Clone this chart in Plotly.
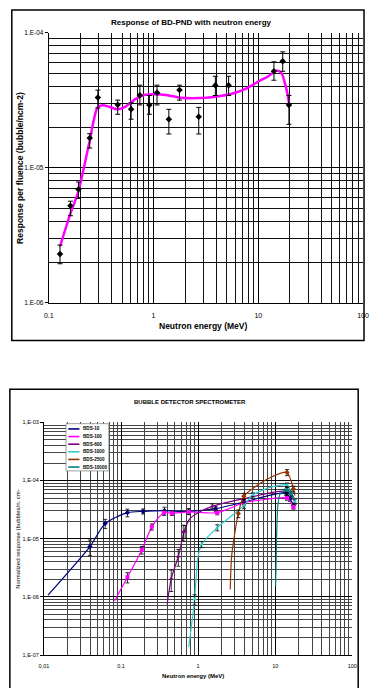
import plotly.graph_objects as go

W, H = 370, 688

# ---------------- top chart data ----------------
top_energy = [0.128, 0.161, 0.192, 0.246, 0.294, 0.455, 0.611, 0.741, 0.912, 1.08,
              1.40, 1.77, 2.70, 3.89, 5.21, 14.1, 17.1, 19.6]
top_resp = [2.30e-6, 5.24e-6, 6.93e-6, 1.66e-5, 3.32e-5, 2.93e-5, 2.71e-5, 3.45e-5, 2.92e-5, 3.59e-5,
            2.29e-5, 3.76e-5, 2.39e-5, 4.09e-5, 4.09e-5, 5.18e-5, 6.16e-5, 2.92e-5]
top_hi = [2.68e-6, 5.66e-6, 7.85e-6, 1.79e-5, 3.76e-5, 3.17e-5, 3.03e-5, 4.09e-5, 3.43e-5, 4.09e-5,
          2.71e-5, 4.09e-5, 2.80e-5, 4.76e-5, 4.76e-5, 6.09e-5, 7.22e-5, 3.43e-5]
top_lo = [1.95e-6, 4.42e-6, 5.93e-6, 1.40e-5, 2.77e-5, 2.49e-5, 2.29e-5, 2.92e-5, 2.49e-5, 2.92e-5,
          1.78e-5, 3.17e-5, 1.78e-5, 3.43e-5, 3.43e-5, 4.45e-5, 5.18e-5, 2.10e-5]
fit_energy = [0.128, 0.159, 0.191, 0.244, 0.292, 0.325, 0.376, 0.449, 0.537, 0.665, 0.824, 1.02,
              1.36, 1.81, 2.78, 3.70, 5.69, 7.57, 10.1, 12.5, 14.9, 16.6, 18.1, 19.2, 19.6]
fit_resp = [2.62e-6, 4.47e-6, 6.63e-6, 1.54e-5, 2.79e-5, 2.90e-5, 2.83e-5, 2.71e-5, 2.83e-5, 3.21e-5,
            3.47e-5, 3.51e-5, 3.45e-5, 3.30e-5, 3.28e-5, 3.34e-5, 3.55e-5, 3.84e-5, 4.37e-5, 4.76e-5,
            5.24e-5, 5.03e-5, 4.13e-5, 3.39e-5, 3.03e-5]

top_x_ticks = [0.1, 1, 10, 100]
top_x_labels = ["0.1", "1", "10", "100"]
top_y_ticks = [1e-6, 1e-5, 1e-4]
top_y_labels = ["1.E-06", "1.E-05", "1.E-04"]

# ---------------- bottom chart data ----------------
bds_names = ["BDS-10", "BDS-100", "BDS-600", "BDS-1000", "BDS-2500", "BDS-10000"]
bds_colors = ["#000080", "#ff00ff", "#800080", "#33cccc", "#993300", "#008080"]
bds_symbols = ["diamond", "square", "triangle-up", "triangle-up", "diamond", "circle"]

bds10_curve_e = [0.0113, 0.0395, 0.0622, 0.121, 0.193, 0.366, 0.755, 1.69, 3.92, 13.9, 15.6, 17.2]
bds10_curve_r = [1.07e-6, 7.31e-6, 1.82e-5, 2.80e-5, 2.95e-5, 3.03e-5, 2.95e-5, 3.28e-5, 4.26e-5, 6.14e-5, 4.85e-5, 3.73e-5]
bds10_pts_e = [0.0395, 0.0622, 0.121, 0.193, 0.366, 0.755, 1.69, 3.92, 13.9, 15.6, 17.2]
bds10_pts_r = [7.31e-6, 1.82e-5, 2.80e-5, 2.95e-5, 3.03e-5, 2.95e-5, 3.28e-5, 4.26e-5, 6.14e-5, 4.85e-5, 3.73e-5]
bds10_err = [0.30, 0.18, 0.15, 0.10, 0.15, 0.12, 0.10, 0.10, 0.10, 0.10, 0.10]

bds100_curve_e = [0.0824, 0.121, 0.186, 0.251, 0.359, 0.457, 0.755, 1.77, 3.92, 5.93, 14.2, 17.2]
bds100_curve_r = [8.49e-7, 2.17e-6, 6.41e-6, 1.60e-5, 2.80e-5, 2.73e-5, 2.88e-5, 2.80e-5, 4.15e-5, 4.54e-5, 5.0e-5, 3.50e-5]
bds100_pts_e = [0.121, 0.186, 0.251, 0.359, 0.457, 0.755, 1.77, 3.92, 14.2, 17.2]
bds100_pts_r = [2.17e-6, 6.41e-6, 1.60e-5, 2.80e-5, 2.73e-5, 2.88e-5, 2.80e-5, 4.15e-5, 5.0e-5, 3.50e-5]
bds100_err = [0.20, 0.15, 0.12, 0.10, 0.08, 0.08, 0.08, 0.08, 0.08, 0.08]

bds600_curve_e = [0.396, 0.448, 0.553, 0.66, 0.778, 1.04, 1.53, 3.92, 13.9, 17.5]
bds600_curve_r = [7.45e-7, 2.06e-6, 4.94e-6, 1.33e-5, 2.2e-5, 2.88e-5, 3.6e-5, 4.9e-5, 6.5e-5, 4.5e-5]
bds600_pts_e = [0.448, 0.553, 0.641, 0.679, 1.53, 3.92, 13.9]
bds600_pts_r = [2.06e-6, 4.94e-6, 1.31e-5, 1.35e-5, 3.6e-5, 4.9e-5, 6.5e-5]
bds600_err = [0.40, 0.32, 0.30, 0.25, 0.10, 0.10, 0.10]

bds1000_curve_e = [0.755, 0.90, 0.99, 1.11, 1.77, 3.92, 5.13, 8.73, 14.2, 18.0]
bds1000_curve_r = [1.37e-7, 9.06e-7, 4.63e-6, 8.0e-6, 1.55e-5, 3.73e-5, 5.68e-5, 7.66e-5, 8.4e-5, 4.37e-5]
bds1000_pts_e = [0.90, 1.11, 1.77, 3.92, 5.13, 14.2, 18.0]
bds1000_pts_r = [9.06e-7, 8.0e-6, 1.55e-5, 3.73e-5, 5.68e-5, 8.4e-5, 4.37e-5]
bds1000_err = [0.20, 0.12, 0.12, 0.12, 0.08, 0.08, 0.10]

bds2500_curve_e = [2.61, 2.73, 3.32, 3.92, 7.93, 14.2, 17.2, 18.0]
bds2500_curve_r = [1.34e-6, 5.27e-6, 2.70e-5, 5.38e-5, 1.06e-4, 1.38e-4, 7.18e-5, 5.52e-5]
bds2500_pts_e = [3.32, 3.92, 14.2, 17.2]
bds2500_pts_r = [2.70e-5, 5.38e-5, 1.38e-4, 7.18e-5]
bds2500_err = [0.15, 0.12, 0.12, 0.12]

bds10000_curve_e = [10.1, 10.4, 10.8, 11.5, 12.9, 14.2, 16.0, 18.0]
bds10000_curve_r = [1.53e-6, 1.0e-5, 3.7e-5, 5.8e-5, 6.7e-5, 6.9e-5, 6.0e-5, 4.85e-5]
bds10000_pts_e = [14.2, 16.0]
bds10000_pts_r = [6.9e-5, 6.0e-5]
bds10000_err = [0.10, 0.10]

bot_x_ticks = [0.01, 0.1, 1, 10, 100]
bot_x_labels = ["0,01", "0,1", "1", "10", "100"]
bot_y_ticks = [1e-7, 1e-6, 1e-5, 1e-4, 1e-3]
bot_y_labels = ["1,E-07", "1,E-06", "1,E-05", "1,E-04", "1,E-03"]

series = [
    (bds10_curve_e, bds10_curve_r, bds10_pts_e, bds10_pts_r, bds10_err),
    (bds100_curve_e, bds100_curve_r, bds100_pts_e, bds100_pts_r, bds100_err),
    (bds600_curve_e, bds600_curve_r, bds600_pts_e, bds600_pts_r, bds600_err),
    (bds1000_curve_e, bds1000_curve_r, bds1000_pts_e, bds1000_pts_r, bds1000_err),
    (bds2500_curve_e, bds2500_curve_r, bds2500_pts_e, bds2500_pts_r, bds2500_err),
    (bds10000_curve_e, bds10000_curve_r, bds10000_pts_e, bds10000_pts_r, bds10000_err),
]

FONT = "Arial, Liberation Sans, sans-serif"


def px(x):
    return x / W


def py(y):
    return 1 - y / H


def minor_vals(lo_exp, hi_exp):
    return [k * 10.0 ** e for e in range(lo_exp, hi_exp) for k in range(2, 10)]


fig = go.Figure()

# top chart traces
fig.add_trace(go.Scatter(
    x=fit_energy, y=fit_resp, mode="lines", xaxis="x", yaxis="y",
    line=dict(color="#ff00ff", width=2.5, shape="spline", smoothing=0.8),
    hoverinfo="skip"))
fig.add_trace(go.Scatter(
    x=top_energy, y=top_resp, mode="markers", xaxis="x", yaxis="y",
    marker=dict(symbol="diamond", size=5, color="black"),
    error_y=dict(type="data", symmetric=False,
                 array=[h - v for h, v in zip(top_hi, top_resp)],
                 arrayminus=[v - l for v, l in zip(top_resp, top_lo)],
                 color="black", thickness=1, width=2.5)))

# bottom chart traces
for (ce, cr, pe, pr, er), name, col, sym in zip(series, bds_names, bds_colors, bds_symbols):
    fig.add_trace(go.Scatter(
        x=ce, y=cr, mode="lines", xaxis="x2", yaxis="y2", name=name,
        line=dict(color=col, width=1.2, shape="spline", smoothing=0.7)))
    fig.add_trace(go.Scatter(
        x=pe, y=pr, mode="markers", xaxis="x2", yaxis="y2", name=name,
        marker=dict(symbol=sym, size=4, color=col),
        error_y=dict(type="data", array=[v * e for v, e in zip(pr, er)],
                     color="black", thickness=0.8, width=2)))

grid_top = dict(showgrid=True, gridcolor="#000000", gridwidth=1)

fig.update_layout(
    width=W, height=H, margin=dict(l=0, r=0, t=0, b=0),
    paper_bgcolor="white", plot_bgcolor="white", showlegend=False,
    font=dict(family=FONT, color="black"),
    xaxis=dict(domain=[px(45), px(368)], type="log", range=[-1, 2], anchor="y",
               tickmode="array", tickvals=top_x_ticks, ticktext=top_x_labels,
               tickfont=dict(size=7), ticks="", ticklabelstandoff=6,
               showline=True, linecolor="black", linewidth=1, zeroline=False,
               minor=dict(tickmode="array", tickvals=minor_vals(-1, 2), showgrid=True,
                          gridcolor="#111111", gridwidth=1, ticks=""),
               **grid_top),
    yaxis=dict(domain=[py(302), py(29)], type="log", range=[-6, -4], anchor="x",
               tickmode="array", tickvals=top_y_ticks, ticktext=top_y_labels,
               tickfont=dict(size=6.5), ticks="outside", ticklen=3, tickcolor="black",
               showline=True, linecolor="black", linewidth=1, zeroline=False,
               minor=dict(tickmode="array", tickvals=minor_vals(-6, -4), showgrid=True,
                          gridcolor="#111111", gridwidth=1, ticks=""),
               **grid_top),
    xaxis2=dict(domain=[px(40), px(357)], type="log", range=[-2, 2], anchor="y2",
                tickmode="array", tickvals=bot_x_ticks, ticktext=bot_x_labels,
                tickfont=dict(size=5.5), ticks="", ticklabelstandoff=5,
                showline=True, linecolor="black", linewidth=1, zeroline=False,
                showgrid=True, gridcolor="#000000", gridwidth=1,
                minor=dict(tickmode="array", tickvals=minor_vals(-2, 2), showgrid=True,
                           gridcolor="#444444", gridwidth=1, ticks="")),
    yaxis2=dict(domain=[py(657.7), py(422.7)], type="log", range=[-7, -3], anchor="x2",
                tickmode="array", tickvals=bot_y_ticks, ticktext=bot_y_labels,
                tickfont=dict(size=5.5), ticks="outside", ticklen=3, tickcolor="black",
                showline=True, linecolor="black", linewidth=1, zeroline=False,
                showgrid=True, gridcolor="#000000", gridwidth=1,
                minor=dict(tickmode="array", tickvals=minor_vals(-7, -3), showgrid=True,
                           gridcolor="#444444", gridwidth=1, ticks="")),
)

shapes = [
    dict(type="rect", xref="paper", yref="paper", x0=px(7), x1=px(369), y0=py(340), y1=py(6),
         line=dict(color="black", width=1.5), fillcolor="rgba(0,0,0,0)", layer="below"),
    dict(type="rect", xref="paper", yref="paper", x0=px(5), x1=px(363), y0=py(700), y1=py(389.3),
         line=dict(color="black", width=1.5), fillcolor="rgba(0,0,0,0)", layer="below"),
    # legend box
    dict(type="rect", xref="paper", yref="paper", x0=px(62.7), x1=px(106.7), y0=py(471.7), y1=py(424),
         line=dict(color="#888888", width=0.8), fillcolor="white", layer="above"),
]
annotations = [
    dict(text="<b>Response of BD-PND with neutron energy</b>", x=px(192), y=py(18.5),
         font=dict(size=8)),
    dict(text="<b>Response per fluence (bubble/ncm-2)</b>", x=px(16), y=py(166),
         textangle=-90, font=dict(size=8.5)),
    dict(text="<b>Neutron energy (MeV)</b>", x=px(204), y=py(325), font=dict(size=8.5)),
    dict(text="<b>BUBBLE DETECTOR SPECTROMETER</b>", x=px(190), y=py(402), font=dict(size=6)),
    dict(text="<b>Neutron energy (MeV)</b>", x=px(193.5), y=py(679), font=dict(size=6)),
    dict(text="Normalized response (bubbles/n. cm-", x=px(12.7), y=py(540),
         textangle=-90, font=dict(size=6)),
]
leg_y0, leg_dy = 429.3, 7.7
for i, (name, col) in enumerate(zip(bds_names, bds_colors)):
    yy = leg_y0 + i * leg_dy
    shapes.append(dict(type="line", xref="paper", yref="paper", x0=px(65), x1=px(76.5),
                       y0=py(yy), y1=py(yy), line=dict(color=col, width=1.6), layer="above"))
    annotations.append(dict(text="<b>" + name + "</b>", x=px(78), y=py(yy), xanchor="left",
                            font=dict(size=4.6)))

for a in annotations:
    a.setdefault("xref", "paper")
    a.setdefault("yref", "paper")
    a.setdefault("showarrow", False)
    a.setdefault("xanchor", "center")
    a.setdefault("yanchor", "middle")
    a["font"]["family"] = FONT
    a["font"]["color"] = "black"

fig.update_layout(shapes=shapes, annotations=annotations)
fig.write_html("out.html", config={"displayModeBar": False},
               post_script="document.body.style.margin='0';document.body.style.overflow='hidden';")
